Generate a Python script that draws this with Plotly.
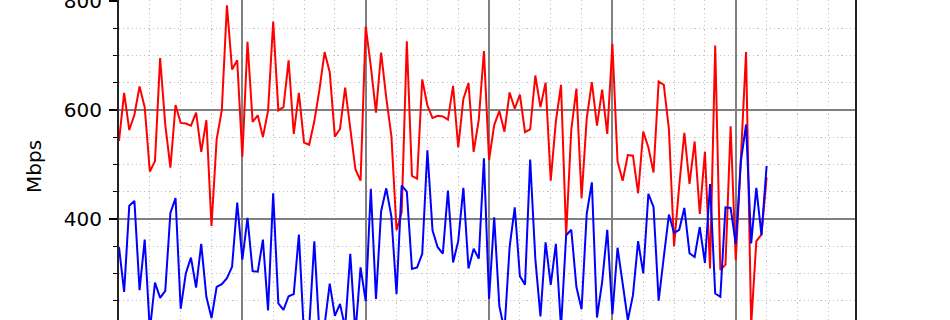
import plotly.graph_objects as go

hours = list(range(127))
red_mbps = [543, 631, 563, 591, 643, 605, 487, 506, 695, 573, 494, 609, 576, 575, 571, 595,
            523, 581, 387, 546, 599, 792, 674, 691, 514, 725, 578, 590, 550, 598, 762, 599,
            605, 691, 556, 631, 540, 536, 579, 637, 706, 669, 551, 565, 641, 567, 491, 470,
            753, 680, 595, 705, 622, 552, 379, 412, 726, 479, 474, 656, 608, 585, 589, 588,
            582, 644, 531, 620, 649, 523, 582, 708, 508, 572, 598, 560, 632, 602, 628, 559,
            564, 663, 605, 650, 470, 579, 646, 370, 564, 639, 438, 584, 651, 571, 637, 556,
            721, 505, 470, 517, 516, 447, 560, 531, 485, 652, 646, 564, 350, 461, 558, 464,
            542, 409, 523, 309, 718, 306, 316, 570, 324, 512, 706, 205, 359, 371, 476]
blue_mbps = [348, 266, 424, 433, 269, 362, 195, 283, 255, 268, 411, 438, 235, 300, 329, 274,
             354, 257, 218, 275, 280, 291, 312, 430, 325, 402, 304, 303, 362, 232, 447, 245,
             233, 258, 262, 371, 185, 200, 359, 190, 205, 281, 222, 244, 200, 336, 190, 311,
             249, 455, 253, 414, 456, 404, 262, 461, 450, 308, 311, 336, 526, 379, 348, 336,
             452, 320, 359, 457, 309, 345, 327, 511, 253, 403, 240, 195, 348, 421, 295, 279,
             509, 327, 221, 357, 279, 354, 200, 370, 380, 275, 234, 409, 467, 219, 284, 380,
             225, 347, 281, 214, 260, 359, 300, 446, 422, 250, 330, 408, 374, 380, 420, 337,
             330, 385, 319, 464, 263, 257, 421, 420, 354, 506, 573, 355, 457, 370, 497]
y_ticks = [400, 600, 800]
y_label = "Mbps"

fig = go.Figure()
fig.add_trace(go.Scatter(x=hours, y=red_mbps, mode="lines",
                         line=dict(color="#ff0000", width=2), showlegend=False))
fig.add_trace(go.Scatter(x=hours, y=blue_mbps, mode="lines",
                         line=dict(color="#0000ff", width=2), showlegend=False))

W, H = 950, 320
L, R = 119, 95
fig.update_layout(
    width=W, height=H,
    margin=dict(l=L, r=R, t=0, b=0, pad=0, autoexpand=False),
    paper_bgcolor="white", plot_bgcolor="white",
    font=dict(family="DejaVu Sans", color="black"),
    xaxis=dict(range=[0, 143.2], showticklabels=False, ticks="", automargin=False,
               tickmode="array", tickvals=[0, 24, 48, 72, 96, 120],
               showgrid=True, gridcolor="#808080", gridwidth=1.6,
               zeroline=False, showline=False,
               minor=dict(dtick=6, tick0=0, showgrid=True, gridcolor="#c4c4c4",
                          gridwidth=1.2, griddash="1.2px,3px")),
    yaxis=dict(range=[214.4, 801.6], tickmode="array", tickvals=y_ticks,
               automargin=False,
               ticks="outside", ticklen=8, tickwidth=1.5, tickcolor="black",
               tickfont=dict(size=20, family="DejaVu Sans", color="black"),
               ticklabelstandoff=3, ticklabeloverflow="allow",
               showgrid=True, gridcolor="#808080", gridwidth=1.6,
               zeroline=False, showline=True, linecolor="#222222", linewidth=2,
               mirror=True,
               minor=dict(dtick=50, tick0=0, showgrid=True, gridcolor="#c4c4c4",
                          gridwidth=1.2, griddash="1.2px,3px",
                          ticks="outside", ticklen=4, tickcolor="black", tickwidth=1.2)),
    annotations=[dict(text=y_label, xref="paper", yref="paper",
                      x=(34 - L) / (W - L - R), y=1 - 167 / H,
                      showarrow=False, textangle=-90,
                      font=dict(size=20, family="DejaVu Sans", color="black"),
                      xanchor="center", yanchor="middle")],
)

fig.write_html("out.html")
